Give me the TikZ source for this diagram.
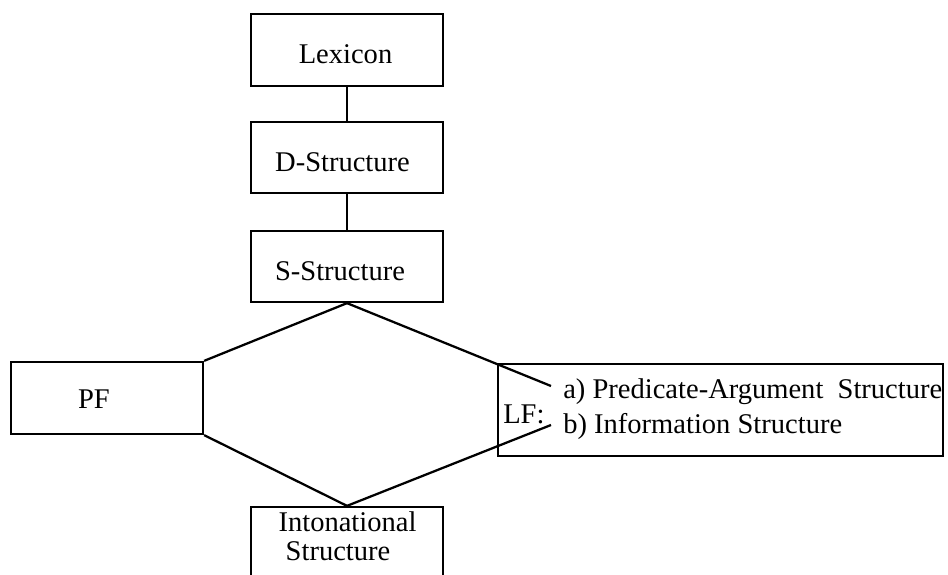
\documentclass[tikz,border=0pt]{standalone}
\usepackage{fontspec}
\setmainfont{Liberation Serif}
\begin{document}
\begin{tikzpicture}[x=0.75pt,y=-0.75pt,
  box/.style={draw,line width=1.7pt,inner sep=0pt,rectangle},
  txt/.style={inner sep=0pt,anchor=base,font=\fontsize{21.4pt}{25pt}\selectfont},
  txtw/.style={txt,anchor=base west},
  conn/.style={line width=1.7pt}]
\useasboundingbox (0,0) rectangle (948,574);
\clip (0,0) rectangle (948,574);
% boxes
\node[box,minimum width=144pt,minimum height=54pt] (lex) at (347,50) {};
\node[box,minimum width=144pt,minimum height=53.25pt] (ds) at (347,157.5) {};
\node[box,minimum width=144pt,minimum height=53.25pt] (ss) at (347,266.5) {};
\node[box,minimum width=144pt,minimum height=54pt] (pf) at (107,398) {};
\node[box,minimum width=333.75pt,minimum height=69pt] (lf) at (720.5,410) {};
\node[box,minimum width=144pt,minimum height=57pt] (int) at (347,545) {};
% texts
\node[txt] (lext) at (345.5,64) {Lexicon};
\node[txt] (dst) at (342.5,171.5) {D-Structure};
\node[txt] (sst) at (340,280) {S-Structure};
\node[txt] (pft) at (94,408) {PF};
\node[txtw] (lft) at (503,423) {LF:};
\node[txtw] (lfa) at (563,398) {a) Predicate-Argument\ \ Structure};
\node[txtw] (lfb) at (563,433) {b) Information Structure};
\node[txt] (int1) at (347.5,531) {Intonational};
\node[txt] (int2) at (338,560) {Structure};
% connector ends
\coordinate (aend) at (551,386);
\coordinate (bend) at (551,425);
% connectors
\draw[conn] (lex.south) -- (ds.north);
\draw[conn] (ds.south) -- (ss.north);
\draw[conn] (ss.south) -- (pf.north east);
\draw[conn] (pf.south east) -- (int.north);
\draw[conn] (ss.south) -- (aend);
\draw[conn] (int.north) -- (bend);
\end{tikzpicture}
\end{document}
